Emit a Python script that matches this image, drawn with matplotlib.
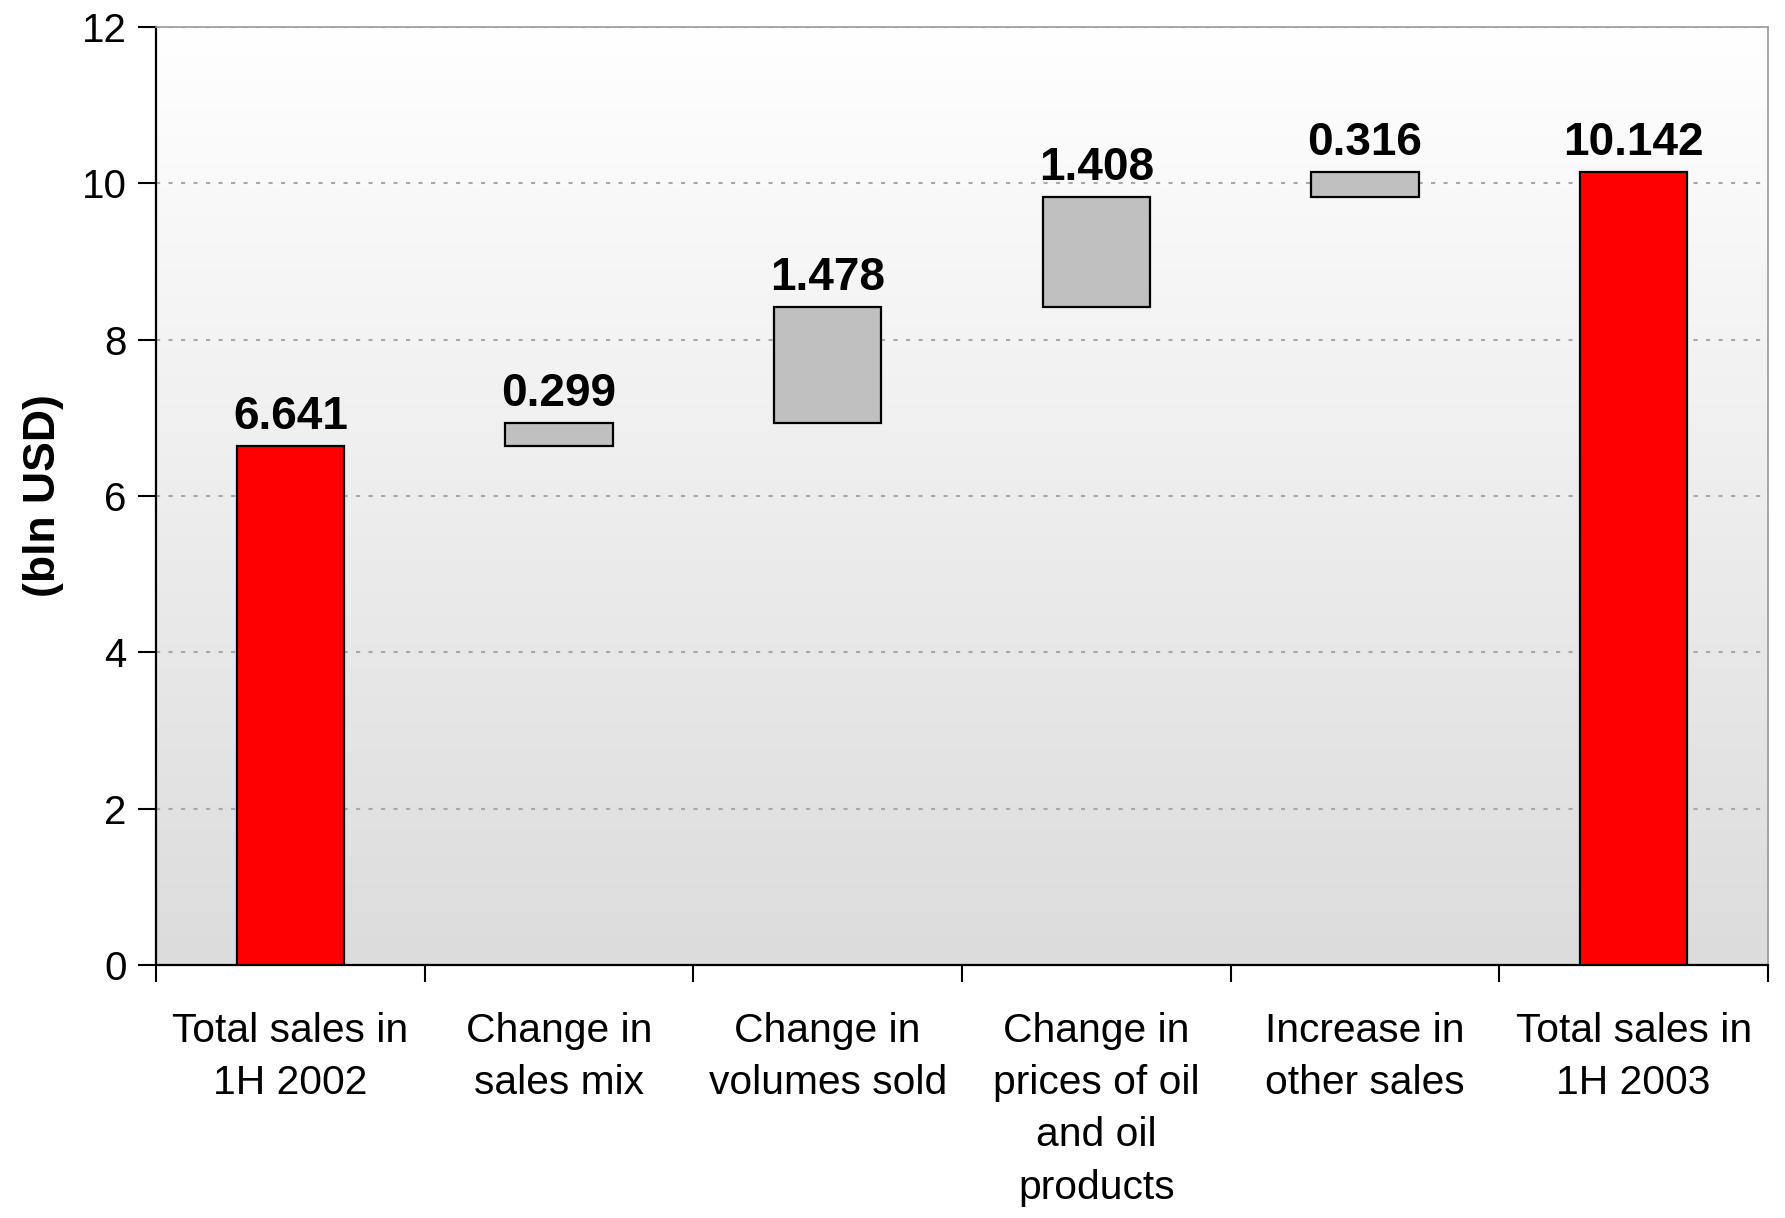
import numpy as np
import matplotlib
matplotlib.use("Agg")
import matplotlib.pyplot as plt
from matplotlib.colors import LinearSegmentedColormap
from matplotlib.ticker import FixedLocator

categories = ["Total sales in\n1H 2002", "Change in\nsales mix", "Change in\nvolumes sold",
              "Change in\nprices of oil\nand oil\nproducts", "Increase in\nother sales",
              "Total sales in\n1H 2003"]
values = [6.641, 0.299, 1.478, 1.408, 0.316, 10.142]
is_total = [True, False, False, False, False, True]
value_labels = ["6.641", "0.299", "1.478", "1.408", "0.316", "10.142"]
yticks = [0, 2, 4, 6, 8, 10, 12]

FONT = ["Liberation Sans", "DejaVu Sans"]

fig = plt.figure(figsize=(17.85, 12.18), dpi=100)
ax = fig.add_axes([156 / 1785, 1 - 965 / 1218, (1768 - 156) / 1785, (965 - 27) / 1218])

# gradient background, white at top to light grey at bottom
grad = np.linspace(1.0, 0.0, 256).reshape(-1, 1)
bg = LinearSegmentedColormap.from_list("bg", ["#dcdcdc", "#ffffff"])
ax.imshow(grad, cmap=bg, extent=[0, 1, 0, 1], transform=ax.transAxes,
          aspect="auto", zorder=0, vmin=0, vmax=1)

x = np.arange(len(values))
bottoms = []
running = 0.0
for v, tot in zip(values, is_total):
    if tot:
        bottoms.append(0.0)
        running = v
    else:
        bottoms.append(running)
        running += v
colors = ["#ff0000" if t else "#c0c0c0" for t in is_total]
ax.bar(x, values, bottom=bottoms, width=0.4, color=colors, edgecolor="black", linewidth=1.6, zorder=3)

for xi, b, v, lab in zip(x, bottoms, values, value_labels):
    ax.annotate(lab, (xi, b + v), xytext=(0, 5), textcoords="offset points", ha="center", va="bottom",
                fontsize=33, fontweight="bold", family=FONT, zorder=4)

ax.set_xlim(-0.5, len(values) - 0.5)
ax.set_ylim(0, 12)
ax.set_yticks(yticks)
ax.yaxis.grid(True, linestyle=(0, (2, 4)), color="#a8a8a8", linewidth=1.5, zorder=1)
ax.set_axisbelow(True)

ax.set_xticks(x)
ax.set_xticklabels(categories, family=FONT, fontsize=29.3, linespacing=1.47)
ax.xaxis.set_minor_locator(FixedLocator(np.arange(-0.5, len(values), 1.0)))
ax.tick_params(axis="x", which="major", length=0, pad=34)
ax.tick_params(axis="x", which="minor", length=12, width=1.5, direction="out")
ax.tick_params(axis="y", length=13, width=1.5, direction="out", pad=8)
for t in ax.get_yticklabels():
    t.set_family(FONT)
    t.set_fontsize(29)

for s in ["left", "bottom"]:
    ax.spines[s].set_color("black")
    ax.spines[s].set_linewidth(1.6)
for s in ["top", "right"]:
    ax.spines[s].set_color("#999999")
    ax.spines[s].set_linewidth(1.2)

fig.text(43 / 1785, 1 - 496 / 1218, "(bln USD)", rotation=90, ha="center", va="center",
         fontsize=32, fontweight="bold", family=FONT)

fig.savefig("out.png", dpi=100)
